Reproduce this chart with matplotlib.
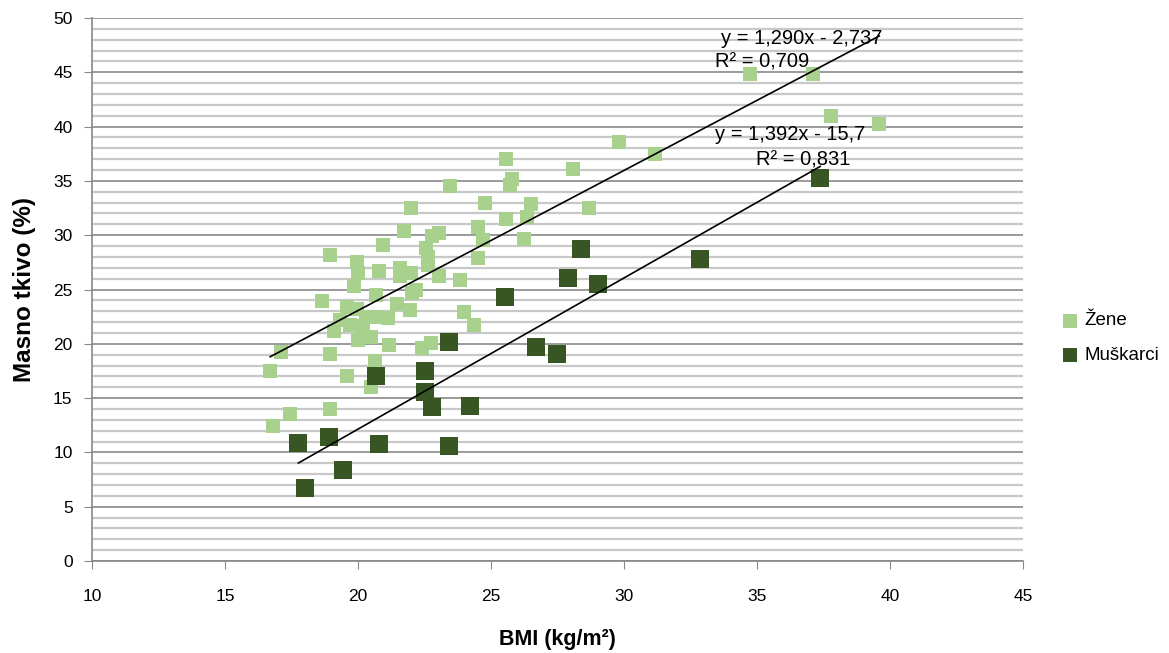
import matplotlib.pyplot as plt
from matplotlib.ticker import MultipleLocator

# Podaci ocitani sa grafikona
zene_bmi = [25.56, 25.8, 25.7, 23.46, 22.0, 24.77, 26.5, 26.34, 25.56, 24.5,
            21.73, 22.8, 23.05, 24.7, 26.24, 20.94, 22.54, 18.95, 22.64, 24.5,
            19.95, 20.0, 20.8, 21.58, 22.0, 22.64, 23.05, 23.83, 19.85, 21.58,
            20.68, 22.2, 22.02, 18.65, 19.57, 19.95, 21.46, 21.95, 23.98, 19.32,
            20.3, 20.64, 21.14, 19.7, 20.2, 19.1, 24.36, 20.0, 20.5, 21.17,
            22.4, 22.74, 17.09, 18.95, 16.7, 20.64, 19.57, 20.5, 18.95, 17.44,
            16.79, 34.74, 37.1, 37.8, 39.6, 29.8, 31.17, 28.1, 28.7]
zene_mast = [37.0, 35.2, 34.6, 34.5, 32.5, 33.0, 32.9, 31.7, 31.5, 30.8,
             30.4, 29.9, 30.2, 29.6, 29.65, 29.1, 28.85, 28.2, 28.0, 27.9,
             27.5, 26.5, 26.7, 26.95, 26.5, 27.25, 26.2, 25.9, 25.35, 26.2,
             24.5, 24.95, 24.65, 23.95, 23.4, 23.25, 23.7, 23.1, 22.9, 22.2,
             22.5, 22.5, 22.35, 21.7, 21.6, 21.2, 21.7, 20.35, 20.65, 19.9,
             19.6, 20.05, 19.25, 19.1, 17.5, 18.4, 17.0, 16.05, 14.0, 13.5,
             12.4, 44.8, 44.8, 41.0, 40.2, 38.6, 37.5, 36.1, 32.5]

muskarci_bmi = [23.42, 26.7, 27.5, 22.53, 20.69, 22.53, 22.8, 24.2, 18.92, 17.76,
                20.8, 23.42, 19.44, 18.02, 25.53, 27.9, 28.4, 29.02, 32.87, 37.38]
muskarci_mast = [20.2, 19.7, 19.1, 17.5, 17.0, 15.6, 14.15, 14.3, 11.4, 10.9,
                 10.75, 10.6, 8.35, 6.7, 24.3, 26.05, 28.7, 25.5, 27.8, 35.3]

# Linearni trend (koeficijenti sa grafikona)
zene_trend = (1.290, -2.737)
muskarci_trend = (1.392, -15.7)

svetla = "#A9D18E"
tamna = "#375623"
plt.rcParams["font.family"] = ["Liberation Sans", "DejaVu Sans"]

fig = plt.figure(figsize=(11.69, 6.53), dpi=100)
ax = fig.add_axes([0.0787, 0.1409, 0.7963, 0.8315])

ax.scatter(zene_bmi, zene_mast, marker="s", s=105, color=svetla, linewidths=0,
           label="Žene", zorder=3)
ax.scatter(muskarci_bmi, muskarci_mast, marker="s", s=150, color=tamna, linewidths=0,
           label="Muškarci", zorder=3)

for xs, (k, n) in [(zene_bmi, zene_trend), (muskarci_bmi, muskarci_trend)]:
    x0, x1 = min(xs), max(xs)
    ax.plot([x0, x1], [k * x0 + n, k * x1 + n], color="black", lw=1.2, zorder=4)

ax.text(36.69, 48.16, "y = 1,290x - 2,737", ha="center", va="center", fontsize=14.5, zorder=5)
ax.text(35.2, 45.95, "R² = 0,709", ha="center", va="center", fontsize=14.5, zorder=5)
ax.text(36.24, 39.3, "y = 1,392x - 15,7", ha="center", va="center", fontsize=14.5, zorder=5)
ax.text(36.73, 36.9, "R² = 0,831", ha="center", va="center", fontsize=14.5, zorder=5)

ax.set_xlim(10, 45)
ax.set_ylim(0, 50)
ax.xaxis.set_major_locator(MultipleLocator(5))
ax.yaxis.set_major_locator(MultipleLocator(5))
ax.yaxis.set_minor_locator(MultipleLocator(1))
ax.grid(axis="y", which="minor", color="#C8C8C8", lw=1.6, zorder=0)
ax.grid(axis="y", which="major", color="#9A9A9A", lw=1.4, zorder=0)
ax.tick_params(axis="y", which="minor", length=0)
ax.tick_params(axis="both", which="major", color="#888888", length=6, labelsize=12.5, pad=8)
ax.tick_params(axis="x", pad=14)

for s in ["top", "right"]:
    ax.spines[s].set_visible(False)
for s in ["left", "bottom"]:
    ax.spines[s].set_color("#888888")
    ax.spines[s].set_linewidth(1.2)

ax.set_xlabel("BMI (kg/m²)", fontsize=15.5, fontweight="bold", labelpad=18)
ax.set_ylabel("Masno tkivo (%)", fontsize=17.5, fontweight="bold", labelpad=12)

leg = ax.legend(loc="center left", bbox_to_anchor=(1.035, 0.41), frameon=False,
                fontsize=13.5, handlelength=0.8, handletextpad=0.35, labelspacing=0.95,
                borderaxespad=0)
for h in leg.legend_handles:
    h.set_sizes([100])

fig.savefig("out.png", dpi=100)
